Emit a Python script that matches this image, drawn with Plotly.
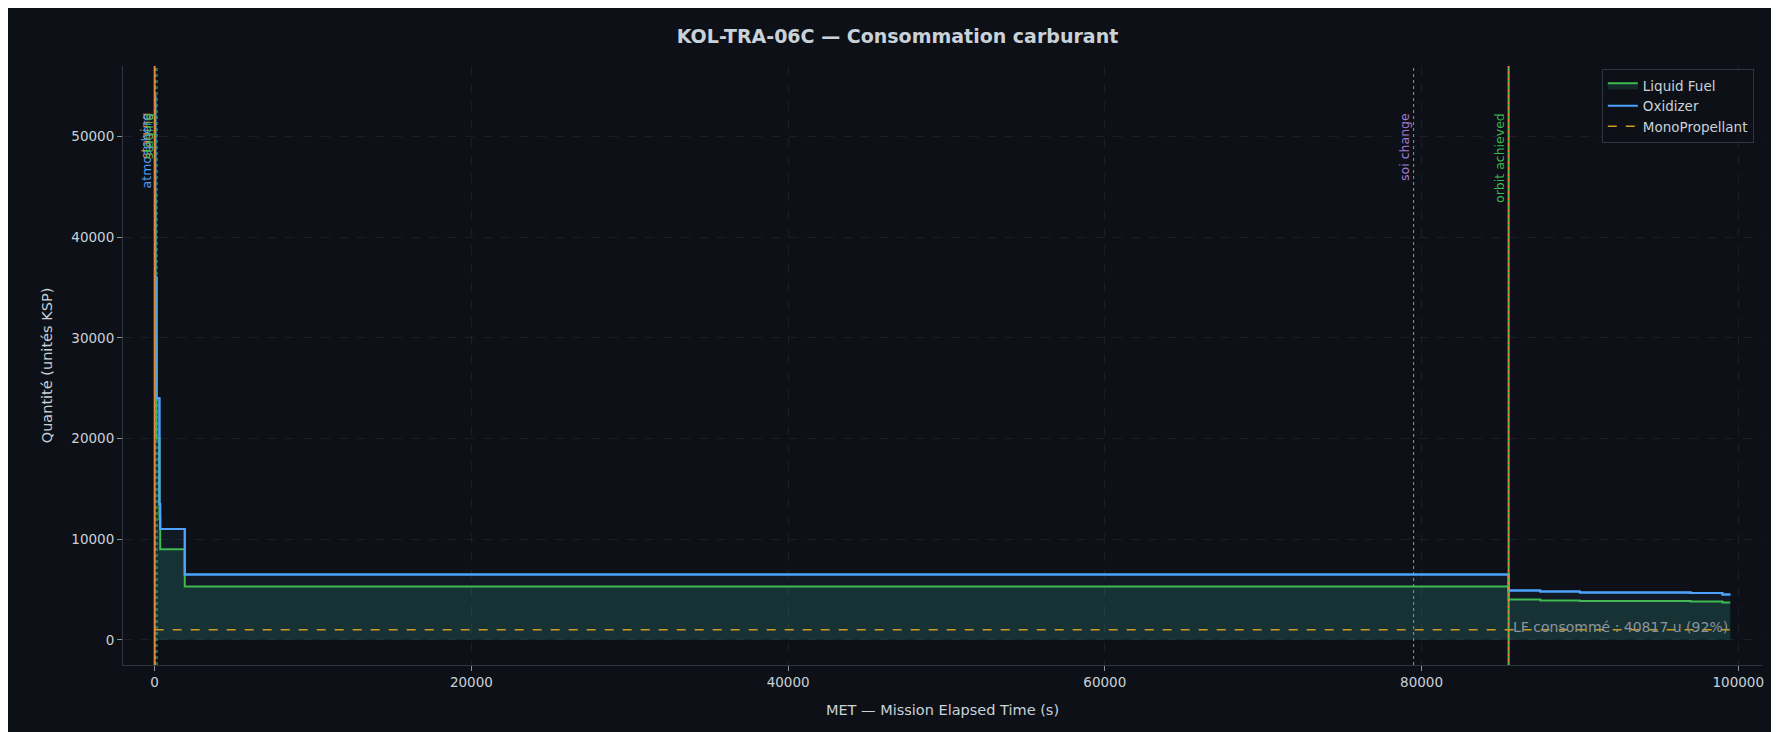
import plotly.graph_objects as go

# data
met = [0, 40, 120, 300, 350, 1900, 85500, 87500, 90000, 93000, 97000, 99000, 99500]
liquid_fuel = [44300, 30000, 20000, 12000, 9000, 5300, 4000, 3900, 3850, 3850, 3800, 3700, 3700]
oxidizer = [54000, 36000, 24000, 13500, 11000, 6500, 4900, 4800, 4700, 4700, 4650, 4500, 4500]
mono = [1000, 1000, 1000, 1000, 1000, 1000, 1000, 1000, 1000, 1000, 1000, 1000, 1000]

events = [
    (0, "staging", "#e8833a", "solid"),
    (60, "atmosphere", "#4da3ff", "dot"),
    (150, "staging", "#3fb950", "dot"),
    (79500, "soi change", "#6fa88a", "dot"),
    (85500, "orbit achieved", "#e8833a", "solid"),
]
label_colors = {"soi change": "#a67bd8", "orbit achieved": "#3fb950"}

BG = "#0d1117"
TXT = "#c9d1d9"

fig = go.Figure()
fig.add_trace(go.Scatter(x=met, y=oxidizer, name="Oxidizer", mode="lines", line_shape="hv",
                         line=dict(color="#4da3ff", width=2), fill="tozeroy",
                         fillcolor="rgba(77,163,255,0.06)", showlegend=False))
fig.add_trace(go.Scatter(x=met, y=liquid_fuel, name="Liquid Fuel", mode="lines", line_shape="hv",
                         line=dict(color="#3fb950", width=2), fill="tozeroy",
                         fillcolor="rgba(63,185,150,0.15)"))
fig.add_trace(go.Scatter(x=met, y=oxidizer, name="Oxidizer", mode="lines", line_shape="hv",
                         line=dict(color="#4da3ff", width=2)))
fig.add_trace(go.Scatter(x=met, y=mono, name="MonoPropellant", mode="lines", line_shape="hv",
                         line=dict(color="#d29922", width=1.5, dash="dash")))

for x, label, color, dash in events:
    fig.add_vline(x=x, line=dict(color=color, width=2 if dash == "solid" else 1, dash=dash))
    if dash == "solid" and x > 0:
        fig.add_vline(x=x, line=dict(color="#3fb950", width=1, dash="dot"))
    fig.add_annotation(x=x, xshift=-9, y=52500, yanchor="top", text=label, textangle=-90,
                       showarrow=False, font=dict(size=12.5, color=label_colors.get(label, color)))

fig.add_annotation(x=99500, y=300, xanchor="right", yanchor="bottom", showarrow=False,
                   text="LF consommé : 40817 u (92%)", font=dict(size=14, color="#8b949e"))

axis = dict(showgrid=True, gridcolor="rgba(255,255,255,0.06)", griddash="dash", zeroline=False,
            showline=True, linecolor="#30363d", ticks="outside", tickcolor="#8b949e",
            tickfont=dict(size=13.5, color=TXT), title_font=dict(size=14.5, color=TXT))
fig.update_layout(
    width=1779, height=732, paper_bgcolor=BG, plot_bgcolor=BG,
    font=dict(family="DejaVu Sans", color=TXT),
    title=dict(text="<b>KOL-TRA-06C — Consommation carburant</b>", x=0.5, y=0.97,
               font=dict(size=19, color=TXT)),
    margin=dict(l=115, r=25, t=58, b=75),
    xaxis=dict(axis, title_text="MET — Mission Elapsed Time (s)", range=[-2000, 101500],
               tickformat="d"),
    yaxis=dict(axis, title_text="Quantité (unités KSP)", range=[-2500, 57000], tickformat="d",
               dtick=10000),
    legend=dict(x=0.995, y=0.995, xanchor="right", yanchor="top", bgcolor=BG,
                bordercolor="#30363d", borderwidth=1, font=dict(size=13.5, color=TXT)),
)
fig.write_html("out.html")
